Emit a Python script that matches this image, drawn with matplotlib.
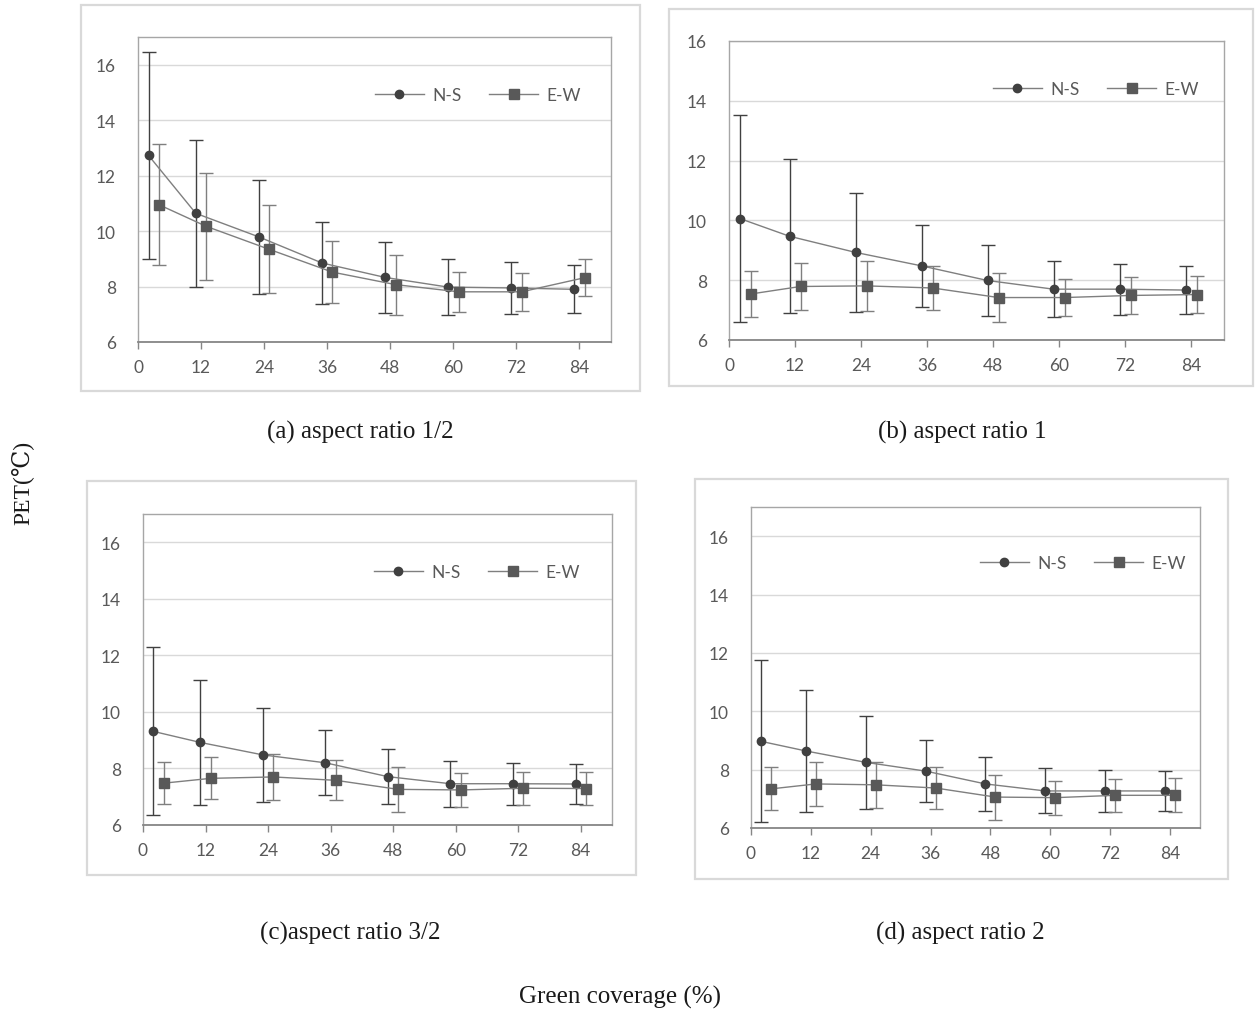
import numpy as np
import matplotlib.pyplot as plt
from matplotlib.patches import Rectangle
from matplotlib.lines import Line2D

W, H = 1257, 1012

# green coverage positions (N-S and E-W points are offset a little in the original)
x_ns = [2, 11, 23, 35, 47, 59, 71, 83]
x_ew = [4, 13, 25, 37, 49, 61, 73, 85]
xticks = [0, 12, 24, 36, 48, 60, 72, 84]

# (a) aspect ratio 1/2
a_ns = [12.73, 10.64, 9.79, 8.85, 8.33, 7.98, 7.95, 7.90]
a_ns_err = [3.72, 2.66, 2.06, 1.48, 1.27, 1.00, 0.93, 0.86]
a_ew = [10.95, 10.17, 9.34, 8.52, 8.07, 7.81, 7.81, 8.32]
a_ew_err = [2.18, 1.93, 1.59, 1.11, 1.08, 0.73, 0.68, 0.67]

# (b) aspect ratio 1
b_ns = [10.06, 9.47, 8.93, 8.48, 7.99, 7.70, 7.70, 7.67]
b_ns_err = [3.45, 2.58, 1.98, 1.36, 1.18, 0.93, 0.85, 0.79]
b_ew = [7.54, 7.79, 7.81, 7.74, 7.42, 7.42, 7.49, 7.52]
b_ew_err = [0.78, 0.79, 0.84, 0.73, 0.81, 0.62, 0.62, 0.61]

# (c) aspect ratio 3/2
c_ns = [9.31, 8.92, 8.48, 8.20, 7.71, 7.46, 7.46, 7.45]
c_ns_err = [2.97, 2.22, 1.67, 1.15, 0.98, 0.82, 0.75, 0.71]
c_ew = [7.48, 7.65, 7.70, 7.58, 7.26, 7.24, 7.30, 7.29]
c_ew_err = [0.74, 0.74, 0.80, 0.71, 0.79, 0.59, 0.59, 0.59]

# (d) aspect ratio 2
d_ns = [8.97, 8.64, 8.25, 7.95, 7.51, 7.27, 7.27, 7.27]
d_ns_err = [2.78, 2.10, 1.59, 1.07, 0.93, 0.77, 0.72, 0.68]
d_ew = [7.34, 7.51, 7.48, 7.37, 7.06, 7.04, 7.12, 7.12]
d_ew_err = [0.74, 0.74, 0.78, 0.71, 0.77, 0.58, 0.57, 0.58]

titles = ["(a) aspect ratio 1/2", "(b) aspect ratio 1",
          "(c)aspect ratio 3/2", "(d) aspect ratio 2"]


def frac(l, t, r, b):
    return [l / W, 1 - b / H, (r - l) / W, (b - t) / H]


fig = plt.figure(figsize=(W / 100, H / 100), dpi=100, facecolor='w')

panels = [
    # outer box, plot area, ymax, legend (x, y) px, title (x, y) px, data
    ((81, 6, 640, 392), (138, 38, 611, 343), 17, (375, 96), (360, 432),
     a_ns, a_ns_err, a_ew, a_ew_err),
    ((669, 10, 1253, 387), (729, 42, 1224, 341), 16, (993, 90), (962, 432),
     b_ns, b_ns_err, b_ew, b_ew_err),
    ((87, 482, 636, 876), (143, 515, 612, 826), 17, (374, 573), (350, 933),
     c_ns, c_ns_err, c_ew, c_ew_err),
    ((695, 480, 1228, 880), (751, 508, 1200, 829), 17, (980, 564), (960, 933),
     d_ns, d_ns_err, d_ew, d_ew_err),
]

for i, (box, area, ymax, leg, tpos, ns, ns_err, ew, ew_err) in enumerate(panels):
    l, t, r, b = box
    fig.patches.append(Rectangle((l / W, 1 - b / H), (r - l) / W, (b - t) / H,
                                 transform=fig.transFigure, fill=False,
                                 edgecolor='#d9d9d9', linewidth=1.6, zorder=0))
    ax = fig.add_axes(frac(*area))
    ax.set_xlim(0, 90)
    ax.set_ylim(6, ymax)
    ax.set_yticks(range(6, ymax + 1, 2))
    ax.set_xticks(xticks)
    ax.grid(axis='y', color='#d9d9d9', linewidth=1.0)
    ax.set_axisbelow(True)
    for s in ax.spines.values():
        s.set_color('#a6a6a6')
        s.set_linewidth(1.0)
    ax.spines['bottom'].set_color('#868686')
    ax.spines['bottom'].set_linewidth(1.3)
    ax.tick_params(axis='y', length=0, pad=16)
    ax.tick_params(axis='x', length=5, width=1, color='#868686', pad=7)
    for lab in ax.get_xticklabels() + ax.get_yticklabels():
        lab.set_fontfamily('Lato')
        lab.set_fontsize(12.5)
        lab.set_color('#595959')

    ax.errorbar(x_ns, ns, yerr=ns_err, color='#7f7f7f', linewidth=1.0,
                marker='o', markersize=6, markerfacecolor='#404040',
                markeredgecolor='#404040', ecolor='#404040', elinewidth=1.0,
                capsize=5, capthick=1.0, zorder=3)
    ax.errorbar(x_ew, ew, yerr=ew_err, color='#7f7f7f', linewidth=1.0,
                marker='s', markersize=6.5, markerfacecolor='#595959',
                markeredgecolor='#595959', ecolor='#7f7f7f', elinewidth=1.0,
                capsize=5, capthick=1.0, zorder=3)

    handles = [Line2D([], [], color='#7f7f7f', lw=1.0, marker='o', ms=6,
                      mfc='#404040', mec='#404040'),
               Line2D([], [], color='#7f7f7f', lw=1.0, marker='s', ms=6.5,
                      mfc='#595959', mec='#595959')]
    lx = (leg[0] - area[0]) / (area[2] - area[0])
    ly = (area[3] - leg[1]) / (area[3] - area[1])
    ax.legend(handles, ['N-S', 'E-W'], loc='center left', bbox_to_anchor=(lx, ly),
              ncol=2, frameon=False, borderpad=0, borderaxespad=0,
              handlelength=2.8, handletextpad=0.5, columnspacing=1.6,
              prop=dict(family='Lato', size=12.5), labelcolor='#595959')

    fig.text(tpos[0] / W, 1 - tpos[1] / H, titles[i], ha='center', va='center',
             family='Liberation Serif', fontsize=18, color='#1a1a1a')

fig.text(620 / W, 1 - 997 / H, 'Green coverage (%)', ha='center', va='center',
         family='Liberation Serif', fontsize=18, color='#1a1a1a')
fig.text(22 / W, 1 - 483 / H, 'PET(℃)', ha='center', va='center', rotation=90,
         family=['Liberation Serif', 'DejaVu Serif'], fontsize=17, color='#1a1a1a')

fig.savefig('out.png', dpi=100, facecolor='w')
